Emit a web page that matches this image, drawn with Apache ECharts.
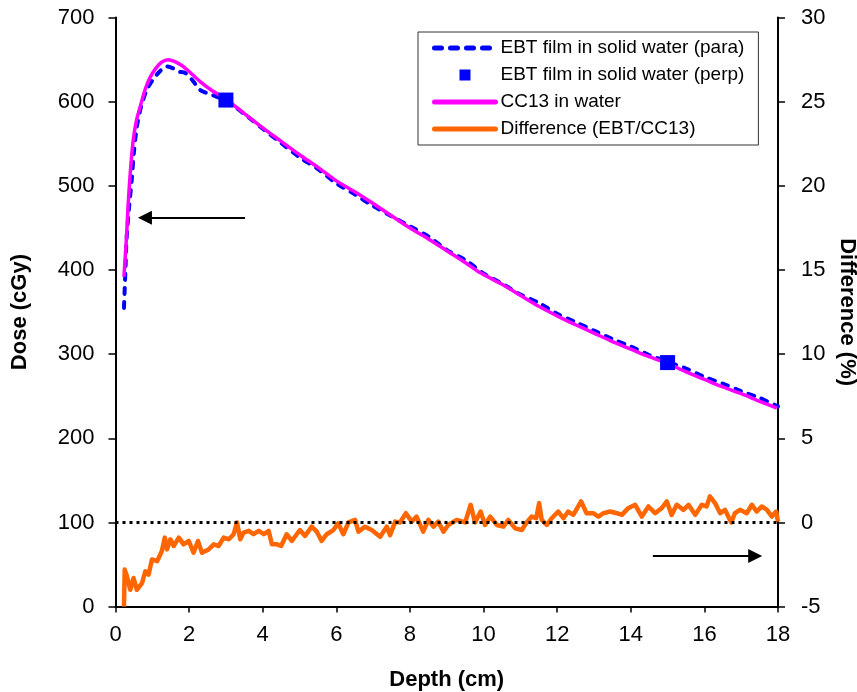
<!DOCTYPE html>
<html>
<head>
<meta charset="utf-8">
<script src="https://cdn.jsdelivr.net/npm/echarts@6/dist/echarts.min.js"></script>
<style>html,body{margin:0;padding:0;background:#fff;overflow:hidden}#c{width:857px;height:692px}</style>
</head>
<body>
<div id="c"></div>
<script>
var FONT = '"Liberation Sans", Arial, sans-serif';

var xTicks = [0, 2, 4, 6, 8, 10, 12, 14, 16, 18];
var doseTicks = [0, 100, 200, 300, 400, 500, 600, 700];
var diffTicks = [-5, 0, 5, 10, 15, 20, 25, 30];

var ebtParaDepth = [0.23, 0.27, 0.30, 0.37, 0.44, 0.50, 0.58, 0.70, 0.85, 1.00, 1.20, 1.40, 1.55, 1.70, 1.90, 2.10, 2.30, 2.50, 2.80, 3.00, 3.30, 3.60, 4.00, 4.50, 5.00, 5.50, 6.00, 6.50, 7.00, 7.50, 8.00, 8.50, 9.00, 9.50, 10.00, 10.50, 11.00, 11.50, 12.00, 12.50, 13.00, 13.50, 14.00, 14.50, 15.00, 15.50, 16.00, 16.50, 17.00, 17.50, 18.00];
var ebtParaDose = [355, 400, 436, 475, 507, 540, 570, 595, 614, 625, 636, 642, 640, 636, 634, 625, 614, 610, 605, 600, 592, 582, 568, 551, 534, 520, 503, 490, 476, 464, 452, 440, 424, 412, 396, 384, 371, 361, 348, 338, 328, 318, 309, 299, 291, 283, 273, 265, 256, 248, 238];

var ebtPerpDepth = [3, 15];
var ebtPerpDose = [602, 290];

var cc13Depth = [0.23, 0.30, 0.34, 0.40, 0.48, 0.57, 0.67, 0.80, 0.94, 1.10, 1.25, 1.43, 1.60, 1.80, 2.00, 2.30, 2.60, 3.00, 3.50, 4.00, 4.50, 5.00, 5.50, 6.00, 6.50, 7.00, 7.65, 8.00, 8.50, 9.00, 9.50, 9.90, 10.50, 11.00, 11.50, 12.16, 12.50, 13.00, 13.50, 14.00, 14.50, 15.00, 15.50, 16.00, 16.50, 17.00, 17.50, 17.97];
var cc13Dose = [392, 440, 475, 515, 554, 578, 594, 614, 629, 640, 647, 650, 648, 643, 636, 624, 614, 603, 586, 569, 553, 537, 522, 506, 493, 479, 460, 450, 437, 423, 409, 397, 383, 370, 357, 342, 335, 325, 315, 306, 297, 289, 279, 270, 261, 253, 244, 236];

var diffDepth = [0.23, 0.25, 0.31, 0.40, 0.49, 0.58, 0.72, 0.81, 0.90, 0.99, 1.13, 1.26, 1.34, 1.40, 1.49, 1.58, 1.72, 1.85, 1.99, 2.12, 2.24, 2.35, 2.53, 2.67, 2.80, 2.94, 3.08, 3.21, 3.30, 3.39, 3.48, 3.62, 3.75, 3.89, 4.03, 4.16, 4.25, 4.39, 4.50, 4.65, 4.79, 5.01, 5.15, 5.33, 5.47, 5.60, 5.74, 5.92, 6.05, 6.19, 6.33, 6.51, 6.60, 6.78, 6.96, 7.19, 7.37, 7.46, 7.60, 7.73, 7.89, 8.05, 8.18, 8.36, 8.50, 8.64, 8.77, 8.91, 9.04, 9.27, 9.50, 9.65, 9.77, 9.92, 10.04, 10.18, 10.36, 10.54, 10.67, 10.86, 11.04, 11.17, 11.31, 11.43, 11.51, 11.58, 11.72, 11.85, 12.03, 12.17, 12.30, 12.44, 12.65, 12.80, 12.98, 13.12, 13.26, 13.44, 13.62, 13.76, 13.93, 14.12, 14.30, 14.48, 14.66, 14.84, 14.98, 15.11, 15.25, 15.43, 15.57, 15.75, 15.93, 16.06, 16.15, 16.29, 16.43, 16.56, 16.73, 16.83, 16.97, 17.15, 17.29, 17.42, 17.56, 17.70, 17.83, 17.95, 18.00];
var diffValue = [-5.0, -2.8, -3.2, -4.0, -3.3, -4.0, -3.6, -2.9, -3.1, -2.2, -2.3, -1.7, -0.9, -1.6, -1.0, -1.4, -0.9, -1.3, -1.1, -1.8, -1.1, -1.8, -1.6, -1.3, -1.4, -0.9, -1.0, -0.7, 0.0, -1.0, -0.6, -0.5, -0.7, -0.5, -0.7, -0.5, -1.3, -1.3, -1.4, -0.7, -1.1, -0.45, -0.8, -0.25, -0.55, -1.1, -0.7, -0.45, -0.05, -0.7, 0.0, 0.15, -0.55, -0.25, -0.45, -0.85, -0.25, -0.75, 0.05, 0.0, 0.55, 0.05, 0.35, -0.55, 0.15, -0.25, 0.05, -0.55, -0.15, 0.15, 0.0, 1.05, 0.0, 0.65, -0.15, 0.35, -0.15, -0.25, 0.15, -0.35, -0.45, 0.0, 0.35, 0.25, 1.15, 0.15, -0.15, 0.25, 0.65, 0.25, 0.65, 0.45, 1.25, 0.55, 0.55, 0.35, 0.55, 0.65, 0.55, 0.45, 0.85, 1.05, 0.35, 0.95, 0.55, 0.85, 1.25, 0.45, 1.05, 0.75, 1.05, 0.45, 1.05, 0.95, 1.55, 1.15, 0.55, 0.75, 0.0, 0.55, 0.75, 0.55, 1.05, 0.65, 0.95, 0.75, 0.35, 0.65, 0.05];

var names = ['EBT film in solid water (para)', 'EBT film in solid water (perp)', 'CC13 in water', 'Difference (EBT/CC13)'];

function pairs(xs, ys) { return xs.map(function (x, i) { return [x, ys[i]]; }); }

var chart = echarts.init(document.getElementById('c'), null, { renderer: 'canvas' });

var tickLabel = { color: '#000', fontFamily: FONT, fontSize: 22 };
var hideSym = { color: 'rgba(0,0,0,0)', borderWidth: 0, opacity: 0 };

chart.setOption({
  animation: false,
  backgroundColor: '#fff',
  grid: { left: 115.5, right: 79, top: 17.6, bottom: 85.4, containLabel: false, outerBoundsMode: 'none' },
  legend: {
    data: [
      { name: names[0], itemStyle: hideSym, lineStyle: { color: '#0000ff', width: 5, type: [7, 9], cap: 'round' } },
      { name: names[1], icon: 'path://M0 0H10V10H0Z', itemStyle: { color: '#0000ff', opacity: 1 } },
      { name: names[2], itemStyle: hideSym, lineStyle: { color: '#ff00ff', width: 5, type: 'solid', cap: 'round' } },
      { name: names[3], itemStyle: hideSym, lineStyle: { color: '#ff6600', width: 5, type: 'solid', cap: 'round' } }
    ],
    orient: 'vertical',
    left: 418,
    top: 32,
    padding: [6, 14, 6, 14],
    itemWidth: 61,
    itemHeight: 11,
    itemGap: 7,
    borderColor: '#333',
    borderWidth: 1,
    textStyle: { color: '#000', fontFamily: FONT, fontSize: 19, lineHeight: 20 },
    selectedMode: false
  },
  xAxis: {
    type: 'value', min: 0, max: 18, interval: 2,
    name: 'Depth (cm)', nameLocation: 'middle', nameGap: 62,
    nameTextStyle: { color: '#000', fontFamily: FONT, fontSize: 22, fontWeight: 'bold' },
    axisLine: { show: true, onZero: false, lineStyle: { color: '#000', width: 2 } },
    axisTick: { show: true, inside: false, length: 6, lineStyle: { color: '#000', width: 1.5 } },
    axisLabel: Object.assign({ margin: 17 }, tickLabel),
    splitLine: { show: false }
  },
  yAxis: [
    {
      type: 'value', min: 0, max: 700, interval: 100, position: 'left',
      name: 'Dose (cGy)', nameLocation: 'middle', nameGap: 85,
      nameTextStyle: { color: '#000', fontFamily: FONT, fontSize: 22, fontWeight: 'bold' },
      axisLine: { show: true, onZero: false, lineStyle: { color: '#000', width: 2 } },
      axisTick: { show: true, inside: false, length: 7, lineStyle: { color: '#000', width: 1.5 } },
      axisLabel: Object.assign({ margin: 21 }, tickLabel),
      splitLine: { show: false }
    },
    {
      type: 'value', min: -5, max: 30, interval: 5, position: 'right',
      name: 'Difference (%)', nameLocation: 'middle', nameGap: 55, nameRotate: -90,
      nameTextStyle: { color: '#000', fontFamily: FONT, fontSize: 22, fontWeight: 'bold' },
      axisLine: { show: true, onZero: false, lineStyle: { color: '#000', width: 2 } },
      axisTick: { show: true, inside: false, length: 7, lineStyle: { color: '#000', width: 1.5 } },
      axisLabel: Object.assign({ margin: 23 }, tickLabel),
      splitLine: { show: false }
    },
    {
      type: 'value', min: -5, max: 30, interval: 5, position: 'right',
      axisLine: { show: false },
      axisTick: { show: true, inside: true, length: 7, lineStyle: { color: '#000', width: 1.5 } },
      axisLabel: { show: false },
      splitLine: { show: false }
    }
  ],
  series: [
    {
      name: names[0], type: 'line', yAxisIndex: 0, z: 2,
      data: pairs(ebtParaDepth, ebtParaDose),
      symbol: 'none', smooth: 0.3,
      lineStyle: { color: '#0000ff', width: 4, type: [6, 8], cap: 'round' },
      itemStyle: { color: '#0000ff' }
    },
    {
      name: names[1], type: 'scatter', yAxisIndex: 0, z: 5,
      data: pairs(ebtPerpDepth, ebtPerpDose),
      symbol: 'rect', symbolSize: 15,
      itemStyle: { color: '#0000ff', opacity: 1 }
    },
    {
      name: names[2], type: 'line', yAxisIndex: 0, z: 3,
      data: pairs(cc13Depth, cc13Dose),
      symbol: 'none', smooth: 0.25,
      lineStyle: { color: '#ff00ff', width: 3.5 },
      itemStyle: { color: '#ff00ff' },
      markLine: {
        silent: true, animation: false,
        symbol: ['none', 'triangle'], symbolSize: [14, 14],
        label: { show: false },
        lineStyle: { color: '#000', width: 2, type: 'solid' },
        data: [[{ coord: [3.52, 462] }, { coord: [0.80, 462] }]]
      }
    },
    {
      name: names[3], type: 'line', yAxisIndex: 1, z: 4,
      data: pairs(diffDepth, diffValue),
      symbol: 'none',
      lineStyle: { color: '#ff6600', width: 4.5, join: 'round' },
      itemStyle: { color: '#ff6600' },
      markLine: {
        silent: true, animation: false,
        symbol: ['none', 'triangle'], symbolSize: [14, 14],
        label: { show: false },
        data: [
          [{ coord: [0, 0], lineStyle: { color: '#000', width: 3, type: [3, 4] }, symbol: 'none' }, { coord: [18, 0], symbol: 'none' }],
          [{ coord: [14.6, -2.0], lineStyle: { color: '#000', width: 2, type: 'solid' } }, { coord: [17.38, -2.0] }]
        ]
      }
    }
  ]
});
</script>
</body>
</html>
